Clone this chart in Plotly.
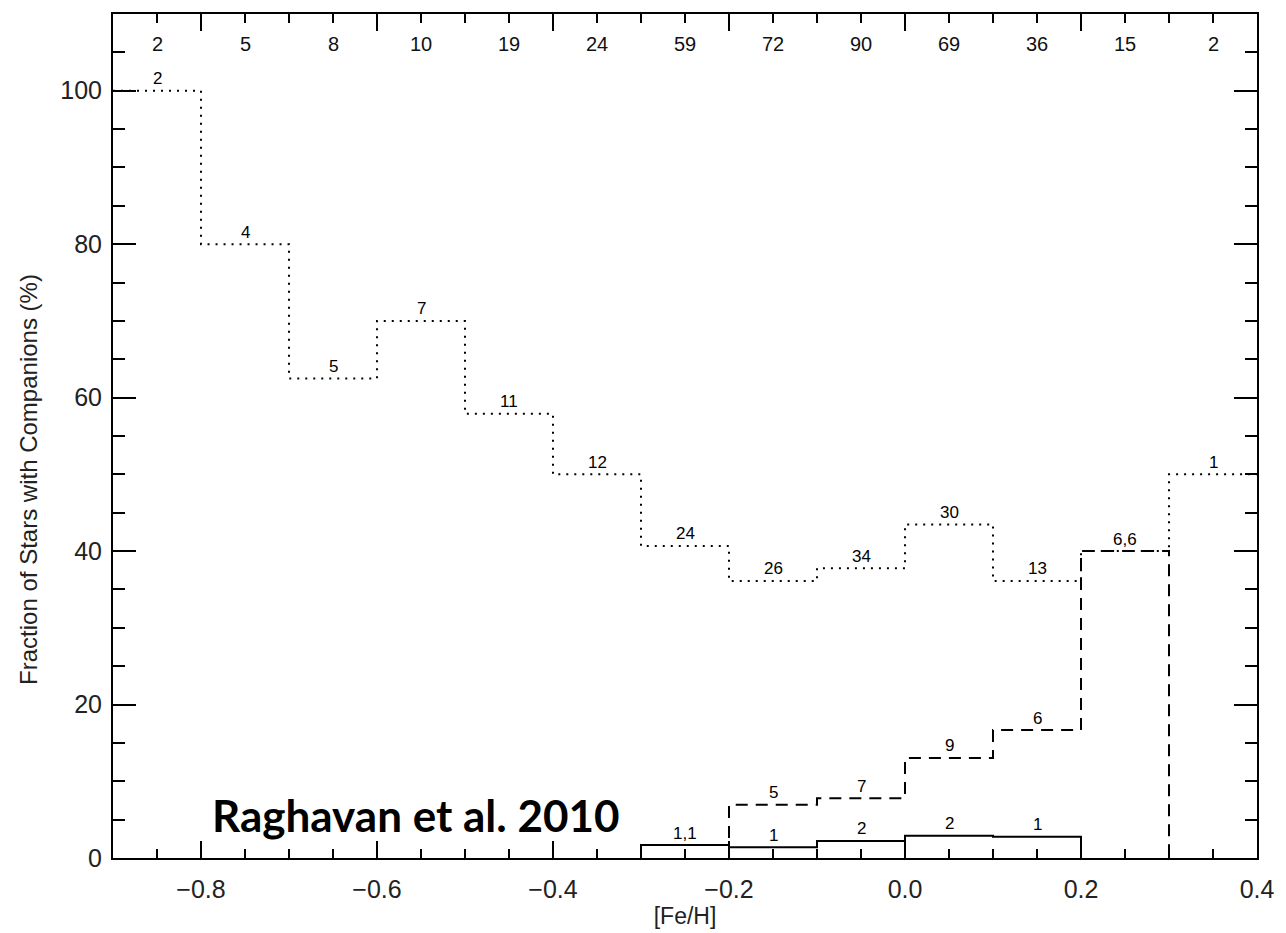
import numpy as np
import plotly.graph_objects as go

# [Fe/H] bins (edges) and number of stars per bin
bin_edges = [-0.9, -0.8, -0.7, -0.6, -0.5, -0.4, -0.3, -0.2, -0.1, 0.0, 0.1, 0.2, 0.3, 0.4]
stars_per_bin = [2, 5, 8, 10, 19, 24, 59, 72, 90, 69, 36, 15, 2]

# all companions (dotted), one value per bin
all_comp = [2, 4, 5, 7, 11, 12, 24, 26, 34, 30, 13, 6, 1]
all_labels = ["2", "4", "5", "7", "11", "12", "24", "26", "34", "30", "13", "6,6", "1"]

# stellar companions in the metal-rich bins (dashed), bins from -0.2 to 0.3
dash_first_bin = 7
dash_comp = [5, 7, 9, 6, 6]
dash_labels = ["5", "7", "9", "6"]

# planetary companions (solid), bins from -0.3 to 0.2
solid_first_bin = 6
solid_comp = [1, 1, 2, 2, 1]
solid_labels = ["1,1", "1", "2", "2", "1"]

edges = np.array(bin_edges)
centers = 0.5 * (edges[:-1] + edges[1:])
totals = np.array(stars_per_bin, dtype=float)


def pct(counts, first):
    n = len(counts)
    return 100.0 * np.array(counts, dtype=float) / totals[first:first + n]


def step_outline(first, vals, drop_start, drop_end):
    """Histogram outline for 'hv' lines, optionally dropping to zero at the ends."""
    n = len(vals)
    xs = list(edges[first:first + n + 1])
    ys = list(vals) + [vals[-1]]
    if drop_start:
        xs = [xs[0]] + xs
        ys = [0.0] + ys
    if drop_end:
        xs = xs + [xs[-1]]
        ys = ys + [0.0]
    return xs, ys


all_pct = pct(all_comp, 0)
dash_pct = pct(dash_comp, dash_first_bin)
solid_pct = pct(solid_comp, solid_first_bin)

fig = go.Figure()

x, y = step_outline(0, all_pct, False, False)
fig.add_trace(go.Scatter(x=x, y=y, mode="lines", line_shape="hv",
                         line=dict(color="black", width=2, dash="2px,6px"),
                         hoverinfo="skip"))

x, y = step_outline(dash_first_bin, dash_pct, True, True)
fig.add_trace(go.Scatter(x=x, y=y, mode="lines", line_shape="hv",
                         line=dict(color="black", width=2, dash="12px,8px"),
                         hoverinfo="skip"))

x, y = step_outline(solid_first_bin, solid_pct, True, True)
fig.add_trace(go.Scatter(x=x, y=y, mode="lines", line_shape="hv",
                         line=dict(color="black", width=2),
                         hoverinfo="skip"))

annotations = []


def add_labels(first, vals, texts):
    for i, t in enumerate(texts):
        annotations.append(dict(x=centers[first + i], y=vals[i], xref="x", yref="y",
                                text=t, showarrow=False, yanchor="middle", yshift=12,
                                font=dict(family="Liberation Sans", size=17, color="black")))


add_labels(0, all_pct, all_labels)
add_labels(dash_first_bin, dash_pct, dash_labels)
add_labels(solid_first_bin, solid_pct, solid_labels)

# number of stars per bin along the top of the frame
for c, n in zip(centers, stars_per_bin):
    annotations.append(dict(x=c, y=1, xref="x", yref="paper", text=str(n),
                            showarrow=False, yanchor="middle", yshift=-30,
                            font=dict(family="Liberation Sans", size=20, color="#111")))

annotations.append(dict(x=-0.79, y=5.6, xref="x", yref="y", text="<b>Raghavan et al. 2010</b>",
                        showarrow=False, xanchor="left", yanchor="middle",
                        font=dict(family="Lato", size=44, color="black")))

# vertical axis title
annotations.append(dict(x=0, y=0.448, xref="paper", yref="paper", xshift=-84,
                        text="Fraction of Stars with Companions (%)", textangle=-90,
                        showarrow=False, xanchor="center", yanchor="middle",
                        font=dict(family="Liberation Sans", size=24, color="#222")))

axis_common = dict(showline=True, linecolor="black", linewidth=2, mirror="allticks",
                   ticks="inside", tickcolor="black", tickwidth=2, showgrid=False,
                   zeroline=False, tickfont=dict(family="Liberation Sans", size=25, color="#222"))

fig.update_layout(
    width=1286, height=933,
    margin=dict(l=113, r=24, t=14, b=75),
    paper_bgcolor="white", plot_bgcolor="white",
    showlegend=False,
    annotations=annotations,
    xaxis=dict(axis_common, range=[-0.9, 0.4], tick0=0, dtick=0.2, tickformat=".1f",
               ticklen=17, ticklabelstandoff=8,
               minor=dict(dtick=0.05, tick0=0, ticklen=9, ticks="inside",
                          tickcolor="black", tickwidth=2),
               title=dict(text="[Fe/H]", standoff=2,
                          font=dict(family="Liberation Sans", size=23, color="#222"))),
    yaxis=dict(axis_common, range=[0, 110], tick0=0, dtick=20, ticklen=23,
               ticklabelstandoff=4,
               minor=dict(dtick=5, tick0=0, ticklen=12, ticks="inside",
                          tickcolor="black", tickwidth=2)),
)

fig.write_html("out.html")
